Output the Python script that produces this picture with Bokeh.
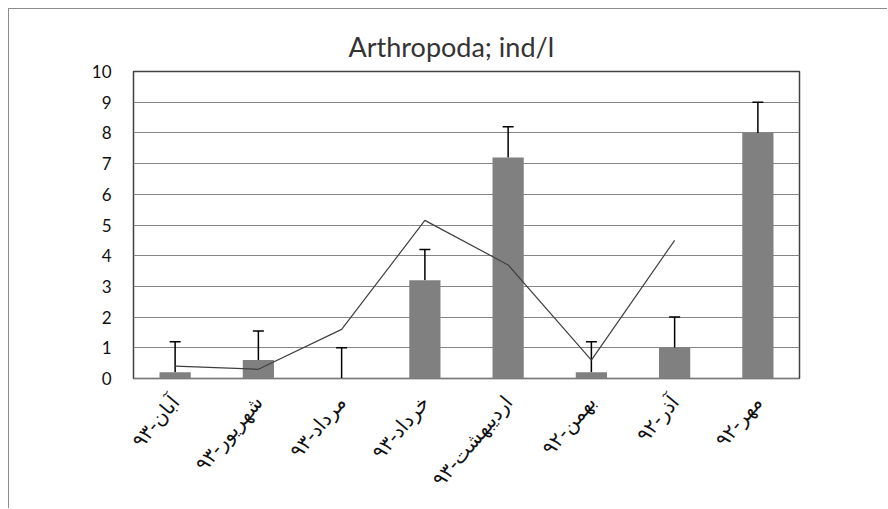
import math
from bokeh.plotting import figure
from bokeh.models import ColumnDataSource, FactorRange, Range1d, Whisker, TeeHead
from bokeh.embed import file_html
from bokeh.resources import INLINE

categories = ["آبان-۹۳", "شهریور-۹۳", "مرداد-۹۳", "خرداد-۹۳", "اردیبهشت-۹۳", "بهمن-۹۲", "آذر-۹۲", "مهر-۹۲"]
bar_values = [0.2, 0.6, 0.0, 3.2, 7.2, 0.2, 1.0, 8.0]
error_values = [1.0, 0.95, 1.0, 1.0, 1.0, 1.0, 1.0, 1.0]
line_values = [0.4, 0.3, 1.6, 5.15, 3.7, 0.6, 4.5, float("nan")]
y_ticks = [0, 1, 2, 3, 4, 5, 6, 7, 8, 9, 10]
title_text = "Arthropoda; ind/l"

src = ColumnDataSource(dict(
    x=categories,
    top=bar_values,
    upper=[b + e for b, e in zip(bar_values, error_values)],
    lower=bar_values,
    line=line_values,
))

p = figure(
    x_range=FactorRange(*categories, range_padding=0),
    y_range=Range1d(0, 10),
    width=879, height=500,
    output_backend="svg", toolbar_location=None,
    min_border_left=124, min_border_right=89, min_border_top=62, min_border_bottom=131,
    title=title_text,
)
p.styles = {"border-left": "1px solid #8c8c8c", "border-top": "1px solid #8c8c8c",
            "margin-left": "8px", "margin-top": "8px"}

p.title.align = "left"
p.title.offset = 215
p.title.text_font = "Lato"
p.title.text_font_size = "27px"
p.title.text_font_style = "normal"
p.title.text_color = "#333333"
p.title.standoff = 18

p.vbar(x="x", top="top", width=0.375, source=src, fill_color="#808080", line_color=None)
p.line(x="x", y="line", source=src, line_color="#404040", line_width=1.2)

wh = Whisker(base="x", upper="upper", lower="lower", source=src,
             upper_head=TeeHead(size=11, line_color="black", line_width=1.5),
             lower_head=None, line_color="black", line_width=1.5)
p.add_layout(wh)

p.outline_line_color = "#404040"
p.outline_line_width = 1.5
p.xgrid.grid_line_color = None
p.ygrid.grid_line_color = "#868686"
p.ygrid.grid_line_width = 1.2
p.yaxis.ticker = y_ticks
p.yaxis.axis_line_color = None
p.yaxis.major_tick_line_color = None
p.yaxis.minor_tick_line_color = None
p.yaxis.major_label_text_font = "Lato"
p.yaxis.major_label_text_font_size = "17px"
p.yaxis.major_label_text_color = "#111111"
p.yaxis.major_label_standoff = 16

p.xaxis.axis_line_color = "#7a7a7a"
p.xaxis.major_tick_line_color = None
p.xaxis.minor_tick_line_color = None
p.xaxis.major_label_orientation = 0.87
p.xaxis.major_label_text_font = "DejaVu Sans"
p.xaxis.major_label_text_font_size = "20px"
p.xaxis.major_label_text_color = "#111111"
p.xaxis.major_label_standoff = 14

p.background_fill_color = "white"
p.border_fill_color = "white"

open("out.html", "w").write(file_html(p, INLINE))
